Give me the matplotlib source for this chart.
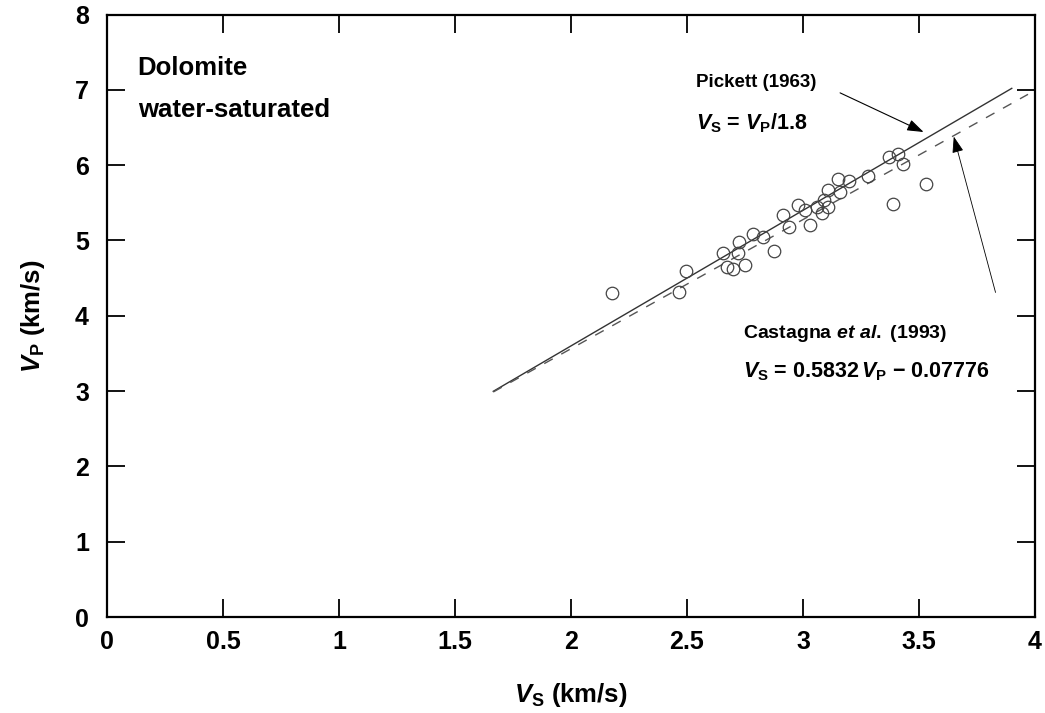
import numpy as np
import matplotlib
matplotlib.use("Agg")
import matplotlib.pyplot as plt

FONT = ["Liberation Sans", "DejaVu Sans"]
plt.rcParams["font.family"] = FONT
plt.rcParams["font.weight"] = "bold"
plt.rcParams["axes.labelweight"] = "bold"
plt.rcParams["mathtext.fontset"] = "custom"
plt.rcParams["mathtext.rm"] = "Liberation Sans:bold"
plt.rcParams["mathtext.it"] = "Liberation Sans:italic:bold"
plt.rcParams["mathtext.bf"] = "Liberation Sans:bold"

# --- data: measured dolomite samples (Vs, Vp in km/s) -------------------------
vs_data = [2.175, 2.466, 2.494, 2.656, 2.724, 2.721, 2.671, 2.697, 2.750,
           2.786, 2.826, 2.875, 2.915, 2.940, 2.980, 3.010, 3.030, 3.060,
           3.080, 3.110, 3.110, 3.090, 3.150, 3.160, 3.200, 3.280, 3.370,
           3.410, 3.430, 3.390, 3.530]
vp_data = [4.30, 4.31, 4.60, 4.83, 4.98, 4.84, 4.65, 4.62, 4.68,
           5.08, 5.04, 4.86, 5.34, 5.18, 5.47, 5.41, 5.21, 5.44,
           5.36, 5.45, 5.67, 5.54, 5.82, 5.65, 5.79, 5.85, 6.11,
           6.15, 6.01, 5.49, 5.75]

# trend lines
pickett_vs = [1.665, 3.90]       # Vp = 1.8 Vs
castagna_vs = [1.665, 3.97]      # Vs = 0.5832 Vp - 0.07776
xticks = [0, 0.5, 1, 1.5, 2, 2.5, 3, 3.5, 4]
xticklabels = ["0", "0.5", "1", "1.5", "2", "2.5", "3", "3.5", "4"]
yticks = [0, 1, 2, 3, 4, 5, 6, 7, 8]

fig = plt.figure(figsize=(10.45, 7.13), dpi=100)
ax = fig.add_axes([0.1024, 0.1346, 0.888, 0.845])

pv = np.array(pickett_vs)
ax.plot(pv, 1.8 * pv, color="#333333", lw=1.0, zorder=2)
cv = np.array(castagna_vs)
ax.plot(cv, (cv + 0.07776) / 0.5832, color="#555555", lw=1.0,
        dashes=(7, 7), zorder=2)

ax.plot(vs_data, vp_data, "o", mfc="none", mec="#444444", mew=0.9,
        ms=9, zorder=3)

ax.set_xlim(0, 4)
ax.set_ylim(0, 8)
ax.set_xticks(xticks)
ax.set_xticklabels(xticklabels)
ax.set_yticks(yticks)
ax.tick_params(direction="in", length=13, width=1.3, labelsize=18,
               top=True, right=True, pad=9)
ax.tick_params(axis="y", pad=13)
for s in ax.spines.values():
    s.set_linewidth(1.6)

ax.set_xlabel(r"$V_\mathrm{S}$ (km/s)", fontsize=18.5, labelpad=20)
ax.set_ylabel(r"$V_\mathrm{P}$ (km/s)", fontsize=18.5, labelpad=20)

ax.text(0.033, 0.932, "Dolomite\nwater-saturated", transform=ax.transAxes,
        fontsize=18.5, va="top", ha="left", linespacing=1.95)

ax.text(2.54, 7.10, "Pickett (1963)", fontsize=13.5, va="center", ha="left")
ax.text(2.54, 6.56, r"$V_\mathrm{S}$ = $V_\mathrm{P}$/1.8", fontsize=15.5,
        va="center", ha="left")
ax.annotate("", xy=(3.52, 6.44), xytext=(3.16, 6.96),
            arrowprops=dict(arrowstyle="-|>,head_length=1.0,head_width=0.35",
                            color="black", lw=0.8, shrinkA=0, shrinkB=0))

ax.text(2.74, 3.77, r"Castagna $et\ al.$ (1993)", fontsize=14,
        va="center", ha="left")
ax.text(2.74, 3.26, r"$V_\mathrm{S}$ = 0.5832$\,V_\mathrm{P}$ $-$ 0.07776",
        fontsize=15.5, va="center", ha="left")
ax.annotate("", xy=(3.65, 6.38), xytext=(3.83, 4.31),
            arrowprops=dict(arrowstyle="-|>,head_length=1.0,head_width=0.35",
                            color="black", lw=0.6, shrinkA=0, shrinkB=0))

fig.savefig("out.png", dpi=100)
